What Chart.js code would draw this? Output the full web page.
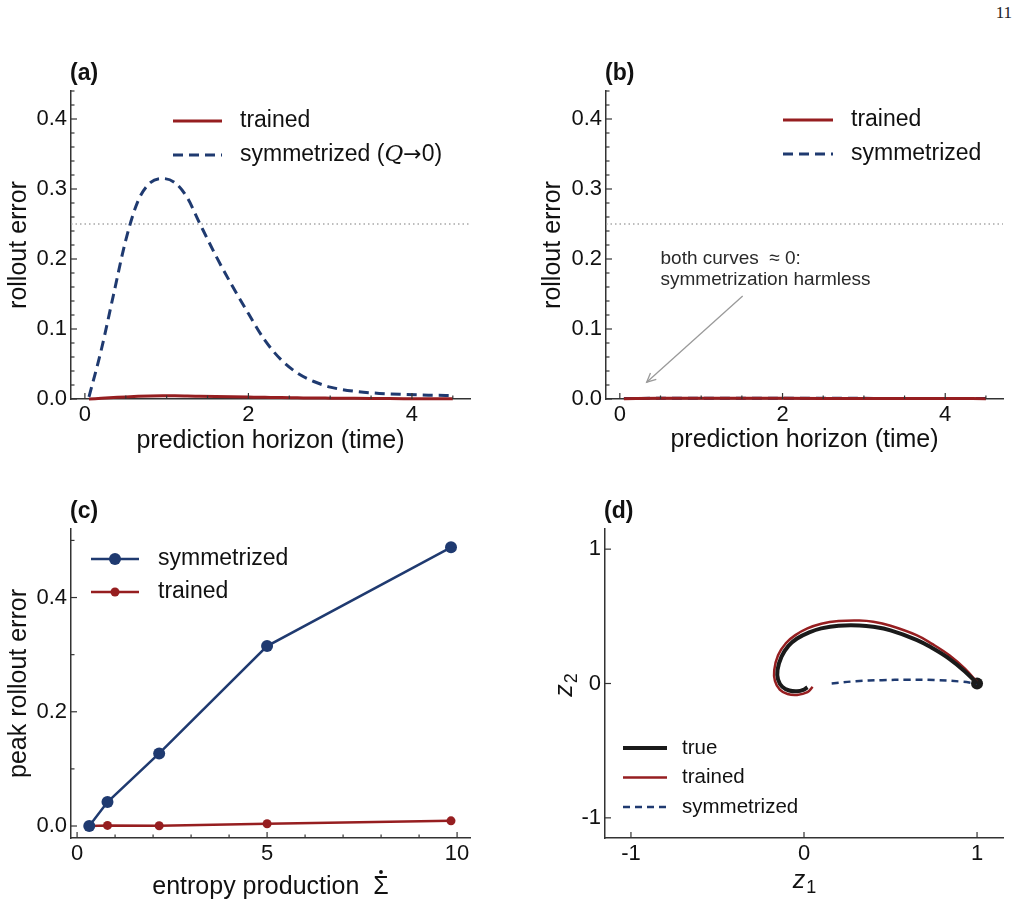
<!DOCTYPE html>
<html lang="en">
<head>
<meta charset="UTF-8">
<title>Rollout error figure</title>
<script src="https://cdn.jsdelivr.net/npm/chart.js"></script>
<style>
  body { margin: 0; background: #fff; width: 1018px; height: 907px; position: relative; overflow: hidden; }
  .panel { position: absolute; }
  .pagenum { position: absolute; top: 3px; right: 6px; font-family: 'Liberation Serif', 'DejaVu Serif', serif; font-size: 17px; color: #222; }
</style>
</head>
<body>
<div class="pagenum">11</div>
<div class="panel"><canvas id="chartA"></canvas></div>
<div class="panel"><canvas id="chartB"></canvas></div>
<div class="panel"><canvas id="chartC"></canvas></div>
<div class="panel"><canvas id="chartD"></canvas></div>

<script>
// ---- values ----
const horizonT = [0.05, 0.2, 0.35, 0.5, 0.65, 0.8, 0.95, 1.1, 1.25, 1.4, 1.6, 1.8, 2.0, 2.2, 2.4, 2.6, 2.8, 3.0, 3.3, 3.6, 3.9, 4.2, 4.5];
const symErrA = [0.003, 0.07, 0.149, 0.227, 0.283, 0.309, 0.315, 0.309, 0.288, 0.252, 0.205, 0.162, 0.122, 0.084, 0.056, 0.037, 0.025, 0.017, 0.011, 0.008, 0.0065, 0.0055, 0.005];
const trainedErrA = [0, 0.001, 0.002, 0.003, 0.0038, 0.0043, 0.0045, 0.0045, 0.0043, 0.004, 0.0036, 0.0032, 0.0028, 0.0024, 0.002, 0.0017, 0.0014, 0.0012, 0.0009, 0.0007, 0.0005, 0.0004, 0.0003];

const horizonTB = [0.05, 0.5, 1.0, 1.5, 2.0, 2.5, 3.0, 3.5, 4.0, 4.5];
const trainedErrB = [0.0005, 0.0009, 0.001, 0.001, 0.0009, 0.0008, 0.0007, 0.0006, 0.0006, 0.0005];
const symErrB = [0.0006, 0.001, 0.0012, 0.0012, 0.0011, 0.001, 0.0009, 0.0008, 0.0007, 0.0007];

const entropyProd = [0.32, 0.8, 2.16, 5.0, 9.84];
const peakSym = [0.0, 0.042, 0.127, 0.315, 0.488];
const peakTrained = [0.0, 0.001, 0.0005, 0.004, 0.009];

const trueZ1 = [1.0, 0.93, 0.84, 0.74, 0.65, 0.5, 0.4, 0.32, 0.2, 0.1, 0.03, -0.04, -0.09, -0.13, -0.153, -0.15, -0.125, -0.085, -0.04, 0.0, 0.02];
const trueZ2 = [0.0, 0.09, 0.184, 0.265, 0.325, 0.395, 0.422, 0.432, 0.43, 0.41, 0.38, 0.335, 0.28, 0.2, 0.1, 0.03, -0.025, -0.052, -0.058, -0.045, -0.028];
const trainedZ1 = [1.0, 0.93, 0.84, 0.74, 0.65, 0.5, 0.4, 0.32, 0.2, 0.1, 0.02, -0.05, -0.105, -0.15, -0.172, -0.168, -0.14, -0.095, -0.04, 0.02, 0.05];
const trainedZ2 = [0.01, 0.11, 0.21, 0.295, 0.36, 0.43, 0.46, 0.469, 0.465, 0.445, 0.41, 0.36, 0.3, 0.21, 0.1, 0.02, -0.045, -0.078, -0.085, -0.065, -0.025];
const symZ1 = [0.16, 0.3, 0.45, 0.6, 0.75, 0.9, 1.0];
const symZ2 = [0.0, 0.017, 0.025, 0.028, 0.026, 0.015, 0.0];
const startZ = [1.0, 0.0];

const errTicks = [0, 0.1, 0.2, 0.3, 0.4];
const horizonTicks = [0, 2, 4];
const peakTicks = [0, 0.2, 0.4];
const entropyTicks = [0, 5, 10];
const zTicks = [-1, 0, 1];

// ---- look ----
const RED = '#961e20', BLUE = '#1f3a70', BLACK = '#1a1a1a', AXIS = '#333', INK = '#111';
const FONT = "'Liberation Sans', Arial, sans-serif";
Chart.defaults.font.family = FONT;
Chart.defaults.color = INK;

// page boxes of each canvas and of its plot area
const boxes = {
  chartA: { left: 0, top: 50, w: 500, h: 410, area: { l: 71, t: 91, r: 470, b: 399 } },
  chartB: { left: 530, top: 50, w: 488, h: 410, area: { l: 606, t: 91, r: 1003, b: 399 } },
  chartC: { left: 0, top: 490, w: 500, h: 417, area: { l: 71, t: 529, r: 470, b: 838 } },
  chartD: { left: 530, top: 490, w: 488, h: 417, area: { l: 605, t: 529, r: 1003, b: 838 } }
};

const decorCfg = {
  chartA: {
    label: '(a)', refY: 0.25, minorX: 0.5, minorY: 0.02,
    legend: { dx: 102, dy: 30, gap: 34, len: 49, textDx: 169, size: 23, items: [
      { parts: [['trained']], color: RED, width: 3 },
      { parts: [['symmetrized ('], ['Q', 'italic 23px "DejaVu Serif", serif'], ['\u2192', '22px "DejaVu Sans", sans-serif'], ['0)']], color: BLUE, width: 3, dash: [10, 6] }
    ] }
  },
  chartB: {
    label: '(b)', refY: 0.25, minorX: 0.5, minorY: 0.02,
    legend: { dx: 177, dy: 29, gap: 34, len: 50, textDx: 245, size: 23, items: [
      { parts: [['trained']], color: RED, width: 3 },
      { parts: [['symmetrized']], color: BLUE, width: 3, dash: [10, 6] }
    ] },
    note: { lines: ['both curves  \u2248 0:', 'symmetrization harmless'], x: 0.5, y: 0.2, lh: 21, size: 19,
            from: [1.51, 0.147], to: [0.33, 0.024] }
  },
  chartC: {
    label: '(c)', minorX: 1, minorY: 0.1, sigmaTitle: 'entropy production  \u03A3',
    legend: { dx: 20, dy: 30, gap: 33, len: 48, textDx: 87, size: 23, items: [
      { parts: [['symmetrized']], color: BLUE, width: 2.5, marker: 6 },
      { parts: [['trained']], color: RED, width: 2.5, marker: 4.5 }
    ] }
  },
  chartD: {
    label: '(d)', zTitles: true,
    legend: { dx: 18, dy: 219, gap: 29.5, len: 44, textDx: 77, size: 20.5, items: [
      { parts: [['true']], color: BLACK, width: 4 },
      { parts: [['trained']], color: RED, width: 2.5 },
      { parts: [['symmetrized']], color: BLUE, width: 2.5, dash: [7, 5] }
    ] }
  }
};

function zip(xs, ys) { return xs.map((x, i) => ({ x: x, y: ys[i] })); }

function isMajor(scale, v) { return scale.ticks.some(t => Math.abs(t.value - v) < 1e-9); }

const decor = {
  id: 'decor',
  beforeDatasetsDraw(chart) {
    const c = decorCfg[chart.canvas.id];
    if (c.refY === undefined) return;
    const ctx = chart.ctx, a = chart.chartArea;
    const y = chart.scales.y.getPixelForValue(c.refY);
    ctx.save();
    ctx.strokeStyle = '#a8a8a8';
    ctx.lineWidth = 1.3;
    ctx.setLineDash([1.5, 3]);
    ctx.beginPath(); ctx.moveTo(a.left, y); ctx.lineTo(a.right, y); ctx.stroke();
    ctx.restore();
  },
  afterDraw(chart) {
    const c = decorCfg[chart.canvas.id];
    const ctx = chart.ctx, a = chart.chartArea, xs = chart.scales.x, ys = chart.scales.y;
    ctx.save();

    // inward ticks
    ctx.strokeStyle = AXIS;
    ctx.lineWidth = 1.2;
    const tk = (px, py, dx, dy) => { ctx.beginPath(); ctx.moveTo(px, py); ctx.lineTo(px + dx, py + dy); ctx.stroke(); };
    xs.ticks.forEach(t => tk(xs.getPixelForValue(t.value), a.bottom, 0, -6));
    ys.ticks.forEach(t => tk(a.left, ys.getPixelForValue(t.value), 6, 0));
    if (c.minorX) {
      for (let i = Math.ceil(xs.min / c.minorX); i * c.minorX <= xs.max; i++) {
        const v = i * c.minorX;
        if (!isMajor(xs, v)) tk(xs.getPixelForValue(v), a.bottom, 0, -3.5);
      }
    }
    if (c.minorY) {
      for (let i = Math.ceil(ys.min / c.minorY); i * c.minorY <= ys.max; i++) {
        const v = i * c.minorY;
        if (!isMajor(ys, v)) tk(a.left, ys.getPixelForValue(v), 3.5, 0);
      }
    }

    // panel label
    ctx.fillStyle = INK;
    ctx.font = 'bold 23px ' + FONT;
    ctx.textAlign = 'left';
    ctx.textBaseline = 'middle';
    ctx.fillText(c.label, a.left - 1, a.top - 17);

    // legend
    const L = c.legend;
    L.items.forEach((it, i) => {
      const y = a.top + L.dy + i * L.gap;
      const x0 = a.left + L.dx;
      ctx.strokeStyle = it.color;
      ctx.lineWidth = it.width;
      ctx.setLineDash(it.dash || []);
      ctx.beginPath(); ctx.moveTo(x0, y); ctx.lineTo(x0 + L.len, y); ctx.stroke();
      ctx.setLineDash([]);
      if (it.marker) {
        ctx.fillStyle = it.color;
        ctx.beginPath(); ctx.arc(x0 + L.len / 2, y, it.marker, 0, Math.PI * 2); ctx.fill();
      }
      let tx = a.left + L.textDx;
      ctx.fillStyle = INK;
      ctx.textAlign = 'left';
      ctx.textBaseline = 'middle';
      it.parts.forEach(p => {
        ctx.font = p[1] || (L.size + 'px ' + FONT);
        ctx.fillText(p[0], tx, y);
        tx += ctx.measureText(p[0]).width;
      });
    });

    // annotation with arrow
    if (c.note) {
      const n = c.note;
      ctx.fillStyle = '#2a2a2a';
      ctx.font = n.size + 'px ' + FONT;
      const nx = xs.getPixelForValue(n.x), ny = ys.getPixelForValue(n.y);
      n.lines.forEach((s, i) => ctx.fillText(s, nx, ny + i * n.lh));
      const fx = xs.getPixelForValue(n.from[0]), fy = ys.getPixelForValue(n.from[1]);
      const hx = xs.getPixelForValue(n.to[0]), hy = ys.getPixelForValue(n.to[1]);
      ctx.strokeStyle = '#9a9a9a';
      ctx.lineWidth = 1.3;
      ctx.beginPath(); ctx.moveTo(fx, fy); ctx.lineTo(hx, hy); ctx.stroke();
      const ang = Math.atan2(fy - hy, fx - hx);
      ctx.beginPath();
      ctx.moveTo(hx + 10 * Math.cos(ang + 0.45), hy + 10 * Math.sin(ang + 0.45));
      ctx.lineTo(hx, hy);
      ctx.lineTo(hx + 10 * Math.cos(ang - 0.45), hy + 10 * Math.sin(ang - 0.45));
      ctx.stroke();
    }

    // x title with a dotted Sigma
    if (c.sigmaTitle) {
      ctx.font = '25px ' + FONT;
      ctx.fillStyle = INK;
      ctx.textAlign = 'center';
      ctx.textBaseline = 'middle';
      const cx = (a.left + a.right) / 2, cy = a.bottom + 49;
      ctx.fillText(c.sigmaTitle, cx, cy);
      const W = ctx.measureText(c.sigmaTitle).width;
      const ws = ctx.measureText('\u03A3').width;
      ctx.beginPath();
      ctx.arc(cx + W / 2 - ws / 2, cy - 15, 1.9, 0, Math.PI * 2);
      ctx.fill();
    }

    // z1 / z2 axis titles
    if (c.zTitles) {
      const drawZ = (sub) => {
        ctx.font = 'italic 25px ' + FONT;
        const w1 = ctx.measureText('z').width;
        ctx.font = '18px ' + FONT;
        const w2 = ctx.measureText(sub).width;
        const x = -(w1 + w2) / 2;
        ctx.textAlign = 'left';
        ctx.textBaseline = 'alphabetic';
        ctx.fillStyle = INK;
        ctx.font = 'italic 25px ' + FONT;
        ctx.fillText('z', x, 0);
        ctx.font = '18px ' + FONT;
        ctx.fillText(sub, x + w1 + 1, 5);
      };
      ctx.save();
      ctx.translate((a.left + a.right) / 2, a.bottom + 50);
      drawZ('1');
      ctx.restore();
      ctx.save();
      ctx.translate(a.left - 33, (a.top + a.bottom) / 2 + 2);
      ctx.rotate(-Math.PI / 2);
      drawZ('2');
      ctx.restore();
    }
    ctx.restore();
  }
};

function scaleOpts(pos, min, max, ticks, fmt, title) {
  return {
    type: 'linear', position: pos, min: min, max: max,
    grid: { display: false, drawTicks: false },
    border: { display: true, color: AXIS, width: 1.5 },
    ticks: { color: INK, font: { size: 22 }, padding: pos === 'bottom' ? 3 : 4, autoSkip: false, maxRotation: 0, callback: fmt },
    afterBuildTicks: s => { s.ticks = ticks.map(v => ({ value: v })); },
    title: title || { display: false }
  };
}

function makeChart(id, datasets, xScale, yScale) {
  const b = boxes[id];
  const wrap = document.getElementById(id).parentNode;
  wrap.style.left = b.left + 'px';
  wrap.style.top = b.top + 'px';
  wrap.style.width = b.w + 'px';
  wrap.style.height = b.h + 'px';
  xScale.afterFit = s => { s.height = b.top + b.h - b.area.b; };
  yScale.afterFit = s => { s.width = b.area.l - b.left; };
  return new Chart(document.getElementById(id), {
    type: 'scatter',
    data: { datasets: datasets },
    options: {
      responsive: true, maintainAspectRatio: false, animation: false, devicePixelRatio: 1,
      layout: { padding: { left: 0, bottom: 0, top: b.area.t - b.top, right: b.left + b.w - b.area.r } },
      plugins: { legend: { display: false }, tooltip: { enabled: false } },
      scales: { x: xScale, y: yScale }
    },
    plugins: [decor]
  });
}

const fmt1 = v => v.toFixed(1);
const fmt0 = v => String(v);
const titleText = (text, padTop, padBottom) => ({ display: true, text: text, color: INK, font: { size: 25 }, padding: { top: padTop, bottom: padBottom } });
const curve = (data, color, width, dash) => ({ data: data, showLine: true, borderColor: color, borderWidth: width, borderDash: dash || [], pointRadius: 0, cubicInterpolationMode: 'monotone', clip: 6 });

// (a)
makeChart('chartA', [
  curve(zip(horizonT, trainedErrA), RED, 3),
  curve(zip(horizonT, symErrA), BLUE, 3, [10, 6])
],
  scaleOpts('bottom', -0.17, 4.71, horizonTicks, fmt0, titleText('prediction horizon (time)', 0, 4)),
  scaleOpts('left', 0, 0.44, errTicks, fmt1, titleText('rollout error', 4, 0)));

// (b)
makeChart('chartB', [
  curve(zip(horizonTB, trainedErrB), RED, 3),
  curve(zip(horizonTB, symErrB), BLUE, 3, [10, 6])
],
  scaleOpts('bottom', -0.17, 4.71, horizonTicks, fmt0, titleText('prediction horizon (time)', 0, 5)),
  scaleOpts('left', 0, 0.44, errTicks, fmt1, titleText('rollout error', 8, 0)));

// (c)
makeChart('chartC', [
  { data: zip(entropyProd, peakSym), showLine: true, borderColor: BLUE, backgroundColor: BLUE, borderWidth: 2.5, pointRadius: 6, pointBorderWidth: 0 },
  { data: zip(entropyProd, peakTrained), showLine: true, borderColor: RED, backgroundColor: RED, borderWidth: 2.5, pointRadius: 4.5, pointBorderWidth: 0 }
],
  scaleOpts('bottom', -0.16, 10.34, entropyTicks, fmt0),
  scaleOpts('left', -0.021, 0.52, peakTicks, fmt1, titleText('peak rollout error', 4, 0)));

// (d)
makeChart('chartD', [
  { data: zip(trueZ1, trueZ2), showLine: true, borderColor: BLACK, borderWidth: 4, pointRadius: 0, tension: 0.4 },
  { data: zip(trainedZ1, trainedZ2), showLine: true, borderColor: RED, borderWidth: 2.5, pointRadius: 0, tension: 0.4 },
  { data: zip(symZ1, symZ2), showLine: true, borderColor: BLUE, borderWidth: 2.5, borderDash: [7, 5], pointRadius: 0, tension: 0.4 },
  { data: [{ x: startZ[0], y: startZ[1] }], backgroundColor: BLACK, pointRadius: 6, pointBorderWidth: 0 }
],
  scaleOpts('bottom', -1.15, 1.15, zTicks, fmt0),
  scaleOpts('left', -1.15, 1.15, zTicks, fmt0));
</script>
</body>
</html>
